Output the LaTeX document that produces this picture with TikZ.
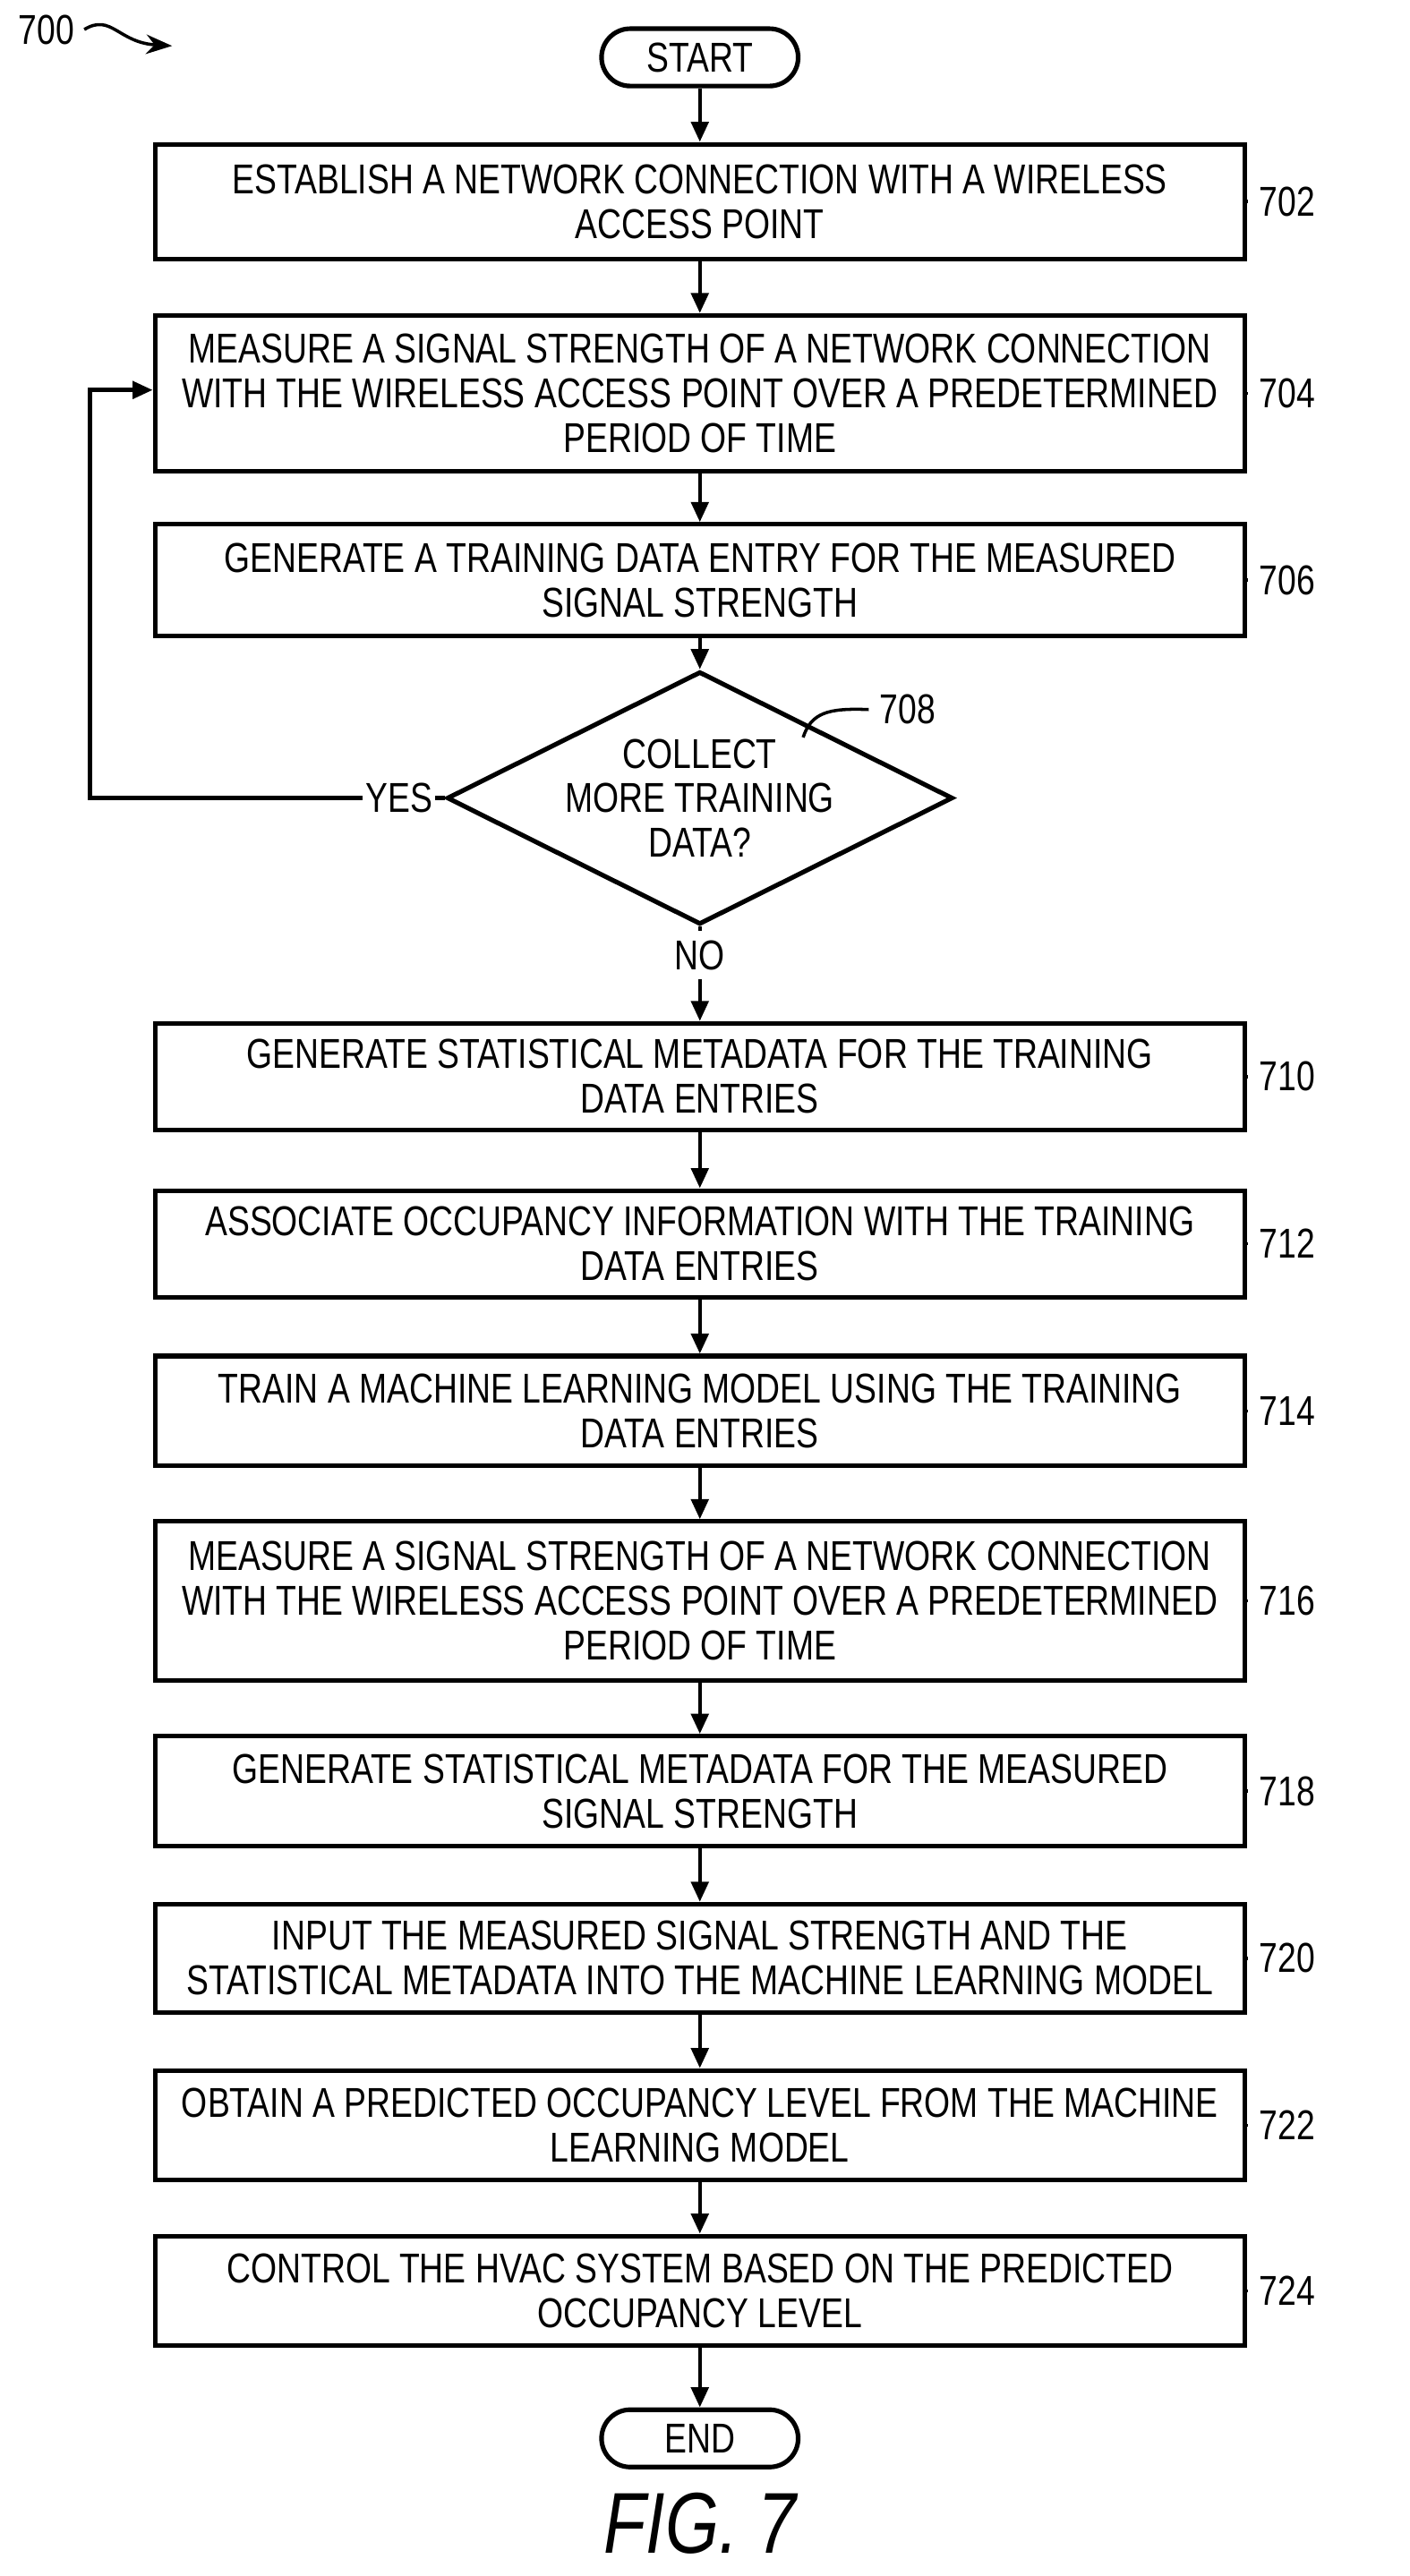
\documentclass[tikz,border=0pt]{standalone}
\usepackage{fontspec}
\setmainfont{Liberation Sans}[FakeStretch=0.8]
\usetikzlibrary{%
        arrows.meta,
        positioning,
        shapes.geometric}
\tikzset{%
    procbox/.style={draw, line width=1.6pt, minimum width=13.3cm,
        align=center, font=\fontsize{14.5}{15.5}\selectfont},
    term/.style={draw, line width=1.6pt, rounded corners=0.35cm,
        minimum width=2.4cm, minimum height=0.7cm,
        font=\fontsize{14.5}{15.5}\selectfont},
    flow/.style={line width=1.4pt, -{Triangle[length=7pt, width=6pt]}},
    refnum/.style={font=\fontsize{14.5}{15.5}\selectfont, anchor=west},
    squig/.style={line width=1.1pt}
}
\newcommand{\tagline}[2]{%
    \draw[squig] (#1.east) .. controls ++(0.35, 0.3) and ++(-0.35, -0.3) ..
        ++(0.8, 0) node[refnum] {#2};
}

\begin{document}
\begin{tikzpicture}[x=0.02cm, y=-0.02cm]

    \useasboundingbox (0, 0) rectangle (860, 1572);

    \node[term] (start) at (427, 35) {START};
    \node[procbox, minimum height=1.4cm] (s702) at (427, 123) {%
        ESTABLISH A NETWORK CONNECTION WITH A WIRELESS\\ACCESS POINT};
    \node[procbox, minimum height=1.9cm] (s704) at (427, 240) {%
        MEASURE A SIGNAL STRENGTH OF A NETWORK CONNECTION\\
        WITH THE WIRELESS ACCESS POINT OVER A PREDETERMINED\\
        PERIOD OF TIME};
    \node[procbox, minimum height=1.36cm] (s706) at (427, 354) {%
        GENERATE A TRAINING DATA ENTRY FOR THE MEASURED\\SIGNAL STRENGTH};
    \node[diamond, draw, line width=1.6pt, aspect=2, inner sep=0pt,
        minimum width=5.1cm, minimum height=2.5cm, align=center,
        font=\fontsize{14.5}{15.5}\selectfont] (d708) at (427, 487) {%
        COLLECT\\MORE TRAINING\\DATA?};
    \node[procbox, minimum height=1.3cm] (s710) at (427, 657) {%
        GENERATE STATISTICAL METADATA FOR THE TRAINING\\DATA ENTRIES};
    \node[procbox, minimum height=1.3cm] (s712) at (427, 759) {%
        ASSOCIATE OCCUPANCY INFORMATION WITH THE TRAINING\\DATA ENTRIES};
    \node[procbox, minimum height=1.34cm] (s714) at (427, 861) {%
        TRAIN A MACHINE LEARNING MODEL USING THE TRAINING\\DATA ENTRIES};
    \node[procbox, minimum height=1.94cm] (s716) at (427, 977) {%
        MEASURE A SIGNAL STRENGTH OF A NETWORK CONNECTION\\
        WITH THE WIRELESS ACCESS POINT OVER A PREDETERMINED\\
        PERIOD OF TIME};
    \node[procbox, minimum height=1.34cm] (s718) at (427, 1093) {%
        GENERATE STATISTICAL METADATA FOR THE MEASURED\\SIGNAL STRENGTH};
    \node[procbox, minimum height=1.32cm] (s720) at (427, 1195) {%
        INPUT THE MEASURED SIGNAL STRENGTH AND THE\\
        STATISTICAL METADATA INTO THE MACHINE LEARNING MODEL};
    \node[procbox, minimum height=1.34cm] (s722) at (427, 1297) {%
        OBTAIN A PREDICTED OCCUPANCY LEVEL FROM THE MACHINE\\
        LEARNING MODEL};
    \node[procbox, minimum height=1.34cm] (s724) at (427, 1398) {%
        CONTROL THE HVAC SYSTEM BASED ON THE PREDICTED\\
        OCCUPANCY LEVEL};
    \node[term] (end) at (427, 1488) {END};
    \node[font=\itshape\fontsize{30}{32}\selectfont] (fig) at (427, 1540)
        {FIG. 7};

    % main flow
    \draw[flow] (start) -- (s702);
    \draw[flow] (s702) -- (s704);
    \draw[flow] (s704) -- (s706);
    \draw[flow] (s706) -- (d708);
    \draw[flow] (d708) -- node[fill=white, refnum, anchor=center,
        pos=0.3] {NO} (s710);
    \draw[flow] (s710) -- (s712);
    \draw[flow] (s712) -- (s714);
    \draw[flow] (s714) -- (s716);
    \draw[flow] (s716) -- (s718);
    \draw[flow] (s718) -- (s720);
    \draw[flow] (s720) -- (s722);
    \draw[flow] (s722) -- (s724);
    \draw[flow] (s724) -- (end);

    % loop back
    \coordinate (loopbot) at (55, 487);
    \coordinate (looptop) at (55, 238);
    \draw[flow] (d708.west) -- node[pos=0.02, refnum, anchor=east,
        fill=white, inner sep=1pt] {YES} (loopbot) -- (looptop)
        -- (s704.west |- looptop);

    % reference numerals
    \tagline{s702}{702}
    \tagline{s704}{704}
    \tagline{s706}{706}
    \tagline{s710}{710}
    \tagline{s712}{712}
    \tagline{s714}{714}
    \tagline{s716}{716}
    \tagline{s718}{718}
    \tagline{s720}{720}
    \tagline{s722}{722}
    \tagline{s724}{724}
    \coordinate (d708tip) at (490, 450);
    \draw[squig] (d708tip) .. controls (495, 435) and (505, 432) .. (530, 433)
        node[refnum] (n708) {708};
    \node[refnum] (n700) at (5, 18) {700};
    \coordinate (p700) at (105, 28);
    \draw[squig, -{Stealth[length=9pt]}] (n700.east) .. controls
        (68, 8) and (72, 26) .. (p700);

\end{tikzpicture}
\end{document}
